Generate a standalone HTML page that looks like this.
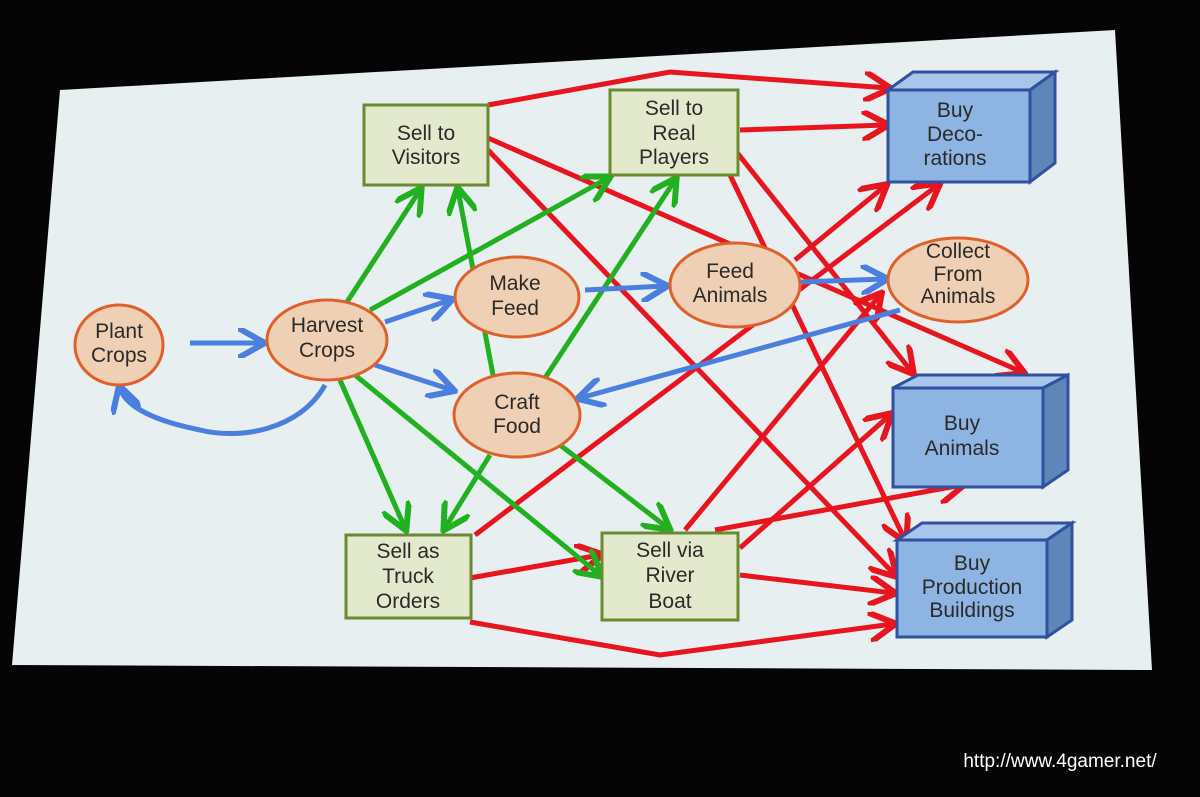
<!DOCTYPE html>
<html><head><meta charset="utf-8"><style>
html,body{margin:0;padding:0;background:#000;}
svg{display:block}
text{font-family:"Liberation Sans","DejaVu Sans",sans-serif;font-size:21px;fill:#2a2a2a;text-anchor:middle}
</style></head><body>
<svg width="1200" height="797" viewBox="0 0 1200 797" xmlns="http://www.w3.org/2000/svg">
<defs>
<marker id="mr" viewBox="0 0 10 10" refX="8" refY="5" markerWidth="6" markerHeight="6" orient="auto"><path d="M0,0 L9,5 L0,10" fill="none" stroke="#e8141e" stroke-width="2"/></marker>
<marker id="mg" viewBox="0 0 10 10" refX="8" refY="5" markerWidth="6" markerHeight="6" orient="auto"><path d="M0,0 L9,5 L0,10" fill="none" stroke="#20b020" stroke-width="2"/></marker>
<marker id="mb" viewBox="0 0 10 10" refX="8" refY="5" markerWidth="6" markerHeight="6" orient="auto"><path d="M0,0 L9,5 L0,10" fill="none" stroke="#4a7fe0" stroke-width="2"/></marker>
</defs>
<rect width="1200" height="797" fill="#050505"/>
<polygon points="60,90 1115,30 1152,670 12,665" fill="#e8eff0"/>

<g fill="none" stroke="#e8141e" stroke-width="5" marker-end="url(#mr)">
<path d="M488,105 L670,72 L888,88"/>
<path d="M740,130 L886,125"/>
<path d="M488,138 L1022,372"/>
<path d="M488,150 L895,575"/>
<path d="M735,150 L912,372"/>
<path d="M730,175 L905,540"/>
<path d="M795,260 L885,186"/>
<path d="M475,535 L938,185"/>
<path d="M470,578 L600,555"/>
<path d="M470,622 L660,655 L893,624"/>
<path d="M685,530 L880,295"/>
<path d="M740,548 L890,415"/>
<path d="M715,530 L962,485"/>
<path d="M740,575 L893,593"/>
</g>
<g fill="none" stroke="#20b020" stroke-width="5" marker-end="url(#mg)">
<path d="M345,305 L420,190"/>
<path d="M370,310 L608,178"/>
<path d="M340,380 L405,528"/>
<path d="M355,375 L600,575"/>
<path d="M493,375 L458,190"/>
<path d="M545,378 L675,180"/>
<path d="M490,455 L445,528"/>
<path d="M560,445 L668,528"/>
</g>
<g fill="none" stroke="#4a7fe0" stroke-width="5" marker-end="url(#mb)">
<path d="M190,343 L262,343"/>
<path d="M325,385 C300,430 240,440 200,430 C150,420 125,405 120,388"/>
<path d="M385,322 L450,300"/>
<path d="M375,365 L452,390"/>
<path d="M585,290 L665,286"/>
<path d="M800,282 L885,279"/>
<path d="M900,310 L580,398"/>
</g>

<g fill="#f0d0b4" stroke="#e0602a" stroke-width="3">
<ellipse cx="119" cy="345" rx="44" ry="40"/>
<ellipse cx="327" cy="340" rx="60" ry="40"/>
<ellipse cx="517" cy="297" rx="62" ry="40"/>
<ellipse cx="517" cy="415" rx="63" ry="42"/>
<ellipse cx="735" cy="285" rx="65" ry="42"/>
<ellipse cx="958" cy="280" rx="70" ry="42"/>
</g>
<g fill="#e2e9cc" stroke="#6a8a30" stroke-width="3">
<rect x="364" y="105" width="124" height="80"/>
<rect x="610" y="90" width="128" height="85"/>
<rect x="346" y="535" width="125" height="83"/>
<rect x="602" y="533" width="136" height="87"/>
</g>
<g stroke="#3050a0" stroke-width="3">
<polygon points="888,90 913,72 1055,72 1030,90" fill="#a9c6ea"/>
<polygon points="1030,90 1055,72 1055,163 1030,182" fill="#5f86b8"/>
<rect x="888" y="90" width="142" height="92" fill="#8db4e2"/>
<polygon points="893,388 918,375 1068,375 1043,388" fill="#a9c6ea"/>
<polygon points="1043,388 1068,375 1068,470 1043,487" fill="#5f86b8"/>
<rect x="893" y="388" width="150" height="99" fill="#8db4e2"/>
<polygon points="897,540 922,523 1072,523 1047,540" fill="#a9c6ea"/>
<polygon points="1047,540 1072,523 1072,620 1047,637" fill="#5f86b8"/>
<rect x="897" y="540" width="150" height="97" fill="#8db4e2"/>
</g>

<text x="119" y="338">Plant</text><text x="119" y="362">Crops</text>
<text x="327" y="332">Harvest</text><text x="327" y="357">Crops</text>
<text x="515" y="290">Make</text><text x="515" y="315">Feed</text>
<text x="517" y="409">Craft</text><text x="517" y="433">Food</text>
<text x="730" y="278">Feed</text><text x="730" y="302">Animals</text>
<text x="958" y="258" font-size="18">Collect</text><text x="958" y="281" font-size="18">From</text><text x="958" y="303" font-size="18">Animals</text>
<text x="426" y="140">Sell to</text><text x="426" y="164">Visitors</text>
<text x="674" y="115">Sell to</text><text x="674" y="140">Real</text><text x="674" y="164">Players</text>
<text x="408" y="558">Sell as</text><text x="408" y="583">Truck</text><text x="408" y="608">Orders</text>
<text x="670" y="557">Sell via</text><text x="670" y="582">River</text><text x="670" y="608">Boat</text>
<text x="955" y="117">Buy</text><text x="955" y="141">Deco-</text><text x="955" y="165">rations</text>
<text x="962" y="430">Buy</text><text x="962" y="455">Animals</text>
<text x="972" y="570">Buy</text><text x="972" y="594">Production</text><text x="972" y="617">Buildings</text>
<text x="1060" y="767" style="fill:#fff;font-size:19px">http://www.4gamer.net/</text>
</svg>
</body></html>
